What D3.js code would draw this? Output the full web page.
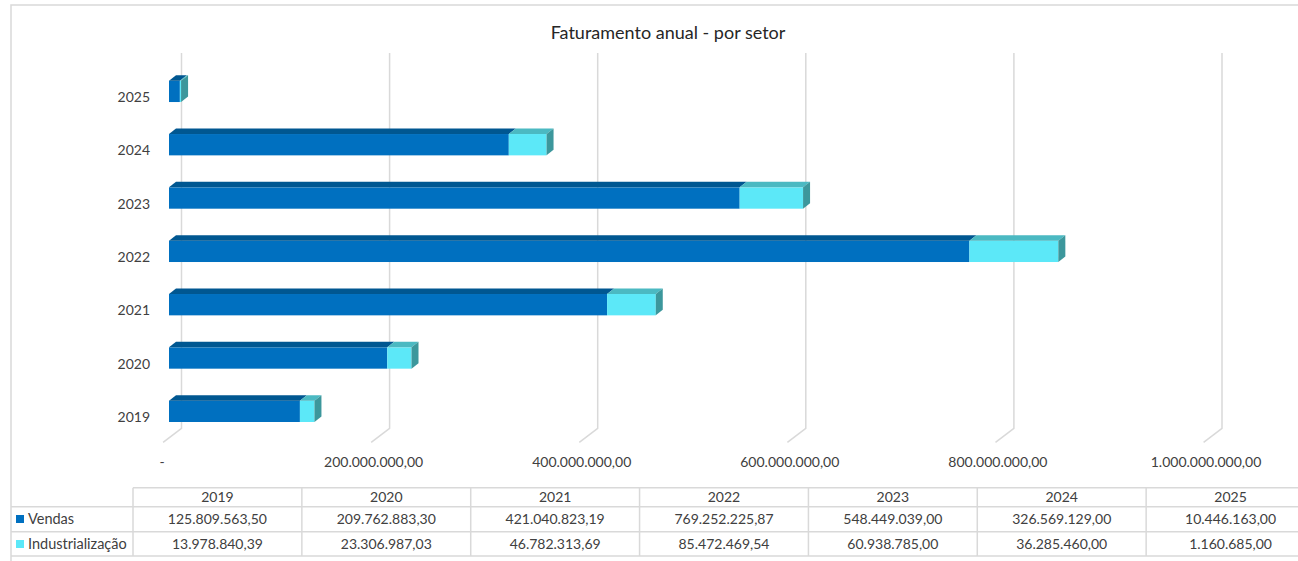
<!DOCTYPE html>
<html>
<head>
<meta charset="utf-8">
<script src="https://cdn.jsdelivr.net/npm/d3@7"></script>
<style>
  body { margin: 0; background: #fff; overflow: hidden; }
  text { font-family: Lato, "Open Sans", sans-serif; fill: #404040; }
</style>
</head>
<body>
<div id="viz"></div>
<script>
// data
var years = ["2019", "2020", "2021", "2022", "2023", "2024", "2025"];
var vendas = [125809563.50, 209762883.30, 421040823.19, 769252225.87, 548449039.00, 326569129.00, 10446163.00];
var industrializacao = [13978840.39, 23306987.03, 46782313.69, 85472469.54, 60938785.00, 36285460.00, 1160685.00];
var seriesNames = ["Vendas", "Industrialização"];
var xTicks = [0, 200000000, 400000000, 600000000, 800000000, 1000000000];
var title = "Faturamento anual - por setor";

var W = 1298, H = 561;
var colors = {
  front: ["#0070C0", "#5CE8F8"],
  top:   ["#005791", "#4BB9C2"],
  side:  ["#00487a", "#3C979C"]
};

var ptBR = d3.formatLocale({decimal: ",", thousands: ".", grouping: [3], currency: ["R$", ""]});
var fmt = ptBR.format(",.2f");

var svg = d3.select("#viz")
  .append("svg")
  .attr("width", W)
  .attr("height", H);

// chart frame
svg.append("rect")
  .attr("x", 11).attr("y", 5)
  .attr("width", 1320).attr("height", 570)
  .attr("fill", "none")
  .attr("stroke", "#d9d9d9")
  .attr("stroke-width", 1.5);

svg.append("text")
  .attr("x", 668).attr("y", 39)
  .attr("text-anchor", "middle")
  .style("font-size", "18px")
  .style("fill", "#262626")
  .text(title);

// scales
var x = d3.scaleLinear().domain([0, 1000000000]).range([0, 1040.5]);
var y = d3.scaleBand()
  .domain(years.slice().reverse())
  .range([64.7, 438])
  .paddingInner(0.6)
  .paddingOuter(0.3);

var frontX0 = 169, backX0 = 181.5;
var depthX = 7, depthY = 5.5;
var wallTop = 53, wallBottom = 428.3, floorDx = -18.4, floorDy = 14;

// gridlines: back wall + floor
svg.append("g").selectAll("path")
  .data(xTicks)
  .join("path")
  .attr("d", function(t) {
    var bx = backX0 + x(t);
    return "M" + bx + "," + wallTop + "V" + wallBottom + "L" + (bx + floorDx) + "," + (wallBottom + floorDy);
  })
  .attr("fill", "none")
  .attr("stroke", "#d9d9d9")
  .attr("stroke-width", 1.5);

// stacked 3d bars
var stackData = years.map(function(yr, i) {
  return {year: yr, segs: [
    {s: 0, v0: 0, v1: vendas[i]},
    {s: 1, v0: vendas[i], v1: vendas[i] + industrializacao[i]}
  ]};
});

var bars = svg.append("g").selectAll("g")
  .data(stackData)
  .join("g")
  .attr("transform", function(d) { return "translate(0," + y(d.year) + ")"; });

var bh = y.bandwidth();

bars.each(function(d) {
  var g = d3.select(this);
  d.segs.forEach(function(s) {
    var a = frontX0 + x(s.v0), b = frontX0 + x(s.v1);
    g.append("rect")
      .attr("x", a).attr("y", 0)
      .attr("width", b - a).attr("height", bh)
      .attr("fill", colors.front[s.s]);
    g.append("path")
      .attr("d", "M" + a + ",0L" + (a + depthX) + "," + (-depthY) + "H" + (b + depthX) + "L" + b + ",0Z")
      .attr("fill", colors.top[s.s]);
  });
  var last = d.segs[d.segs.length - 1];
  var e = frontX0 + x(last.v1);
  g.append("path")
    .attr("d", "M" + e + ",0L" + (e + depthX) + "," + (-depthY) + "V" + (bh - depthY) + "L" + e + "," + bh + "Z")
    .attr("fill", colors.side[last.s]);
});

// category axis
var yAxis = svg.append("g")
  .attr("transform", "translate(150,0)")
  .call(d3.axisLeft(y).tickSize(0).tickPadding(0));
yAxis.select(".domain").remove();
yAxis.selectAll("text")
  .attr("dy", 0)
  .attr("y", bh / 2)
  .style("font-family", "Lato, sans-serif")
  .style("font-size", "14px")
  .style("fill", "#404040");

// value axis labels
var xAxis = svg.append("g")
  .attr("transform", "translate(" + (backX0 - 16.5) + ",467)")
  .call(d3.axisBottom(x).tickValues(xTicks).tickSize(0).tickPadding(0)
    .tickFormat(function(t) { return t === 0 ? "-" : fmt(t); }));
xAxis.select(".domain").remove();
xAxis.selectAll("text")
  .attr("dy", 0)
  .attr("y", 0)
  .attr("dx", function(t) { return t === 0 ? -3.5 : 0; })
  .style("font-family", "Lato, sans-serif")
  .style("font-size", "14px")
  .style("fill", "#404040");

// data table
var col = d3.scaleBand().domain(years).range([133, 1315]);
var rowY = [487.7, 506.7, 531.7, 556];
var table = svg.append("g").attr("stroke", "#d9d9d9").attr("stroke-width", 1.5);
table.append("line").attr("x1", 133).attr("x2", 1330).attr("y1", rowY[0]).attr("y2", rowY[0]);
rowY.slice(1).forEach(function(ry) {
  table.append("line").attr("x1", 11).attr("x2", 1330).attr("y1", ry).attr("y2", ry);
});
table.selectAll(".vl")
  .data(years.concat(["end"]))
  .join("line")
  .attr("x1", function(d) { return d === "end" ? col.range()[1] : col(d); })
  .attr("x2", function(d) { return d === "end" ? col.range()[1] : col(d); })
  .attr("y1", rowY[0]).attr("y2", rowY[3]);

var tt = svg.append("g")
  .style("font-size", "14px")
  .attr("text-anchor", "middle");
tt.selectAll(".hdr")
  .data(years)
  .join("text")
  .attr("x", function(d) { return col(d) + col.bandwidth() / 2; })
  .attr("y", 502)
  .text(function(d) { return d; });

var rows = [vendas, industrializacao];
var baselines = [524, 549];
rows.forEach(function(vals, r) {
  tt.append("g").selectAll("text")
    .data(vals)
    .join("text")
    .attr("x", function(v, i) { return col(years[i]) + col.bandwidth() / 2; })
    .attr("y", baselines[r])
    .text(function(v) { return fmt(v); });
});

// legend keys in the table
var leg = svg.append("g");
seriesNames.forEach(function(name, r) {
  leg.append("rect")
    .attr("x", 16).attr("y", baselines[r] - 9)
    .attr("width", 8).attr("height", 8)
    .attr("fill", colors.front[r]);
  leg.append("text")
    .attr("x", 28).attr("y", baselines[r])
    .style("font-size", "14.5px")
    .text(name);
});
</script>
</body>
</html>
